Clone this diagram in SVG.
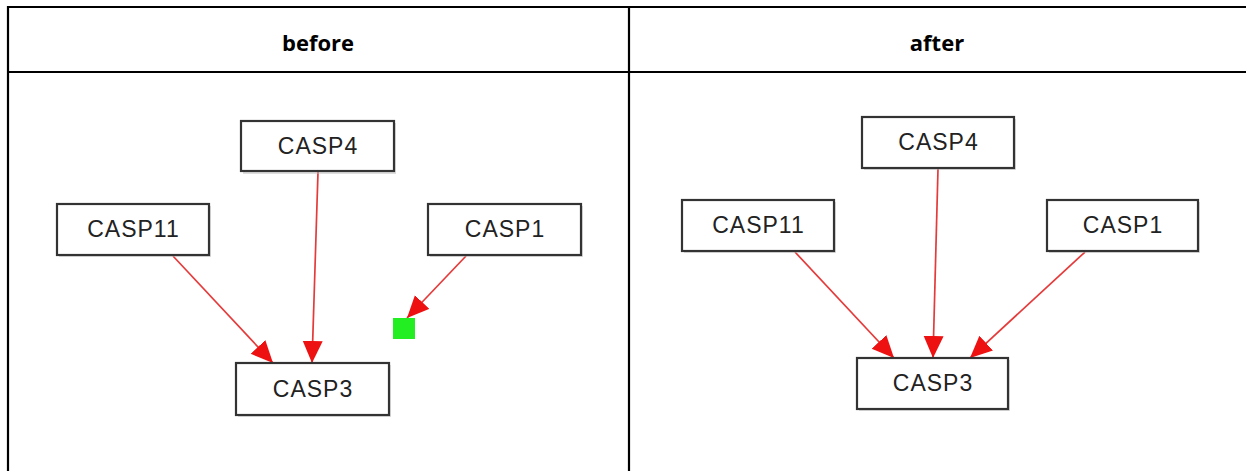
<svg xmlns="http://www.w3.org/2000/svg" width="1246" height="471" viewBox="0 0 1246 471">
<defs>
<style>
.grid{stroke:#000;stroke-width:2.2;fill:none}
.hdr{font-family:"Open Sans","Liberation Sans",sans-serif;font-weight:bold;font-size:22px;fill:#000;text-anchor:middle}
.box{fill:#fff;stroke:#333;stroke-width:2.2}
.shd{fill:#bbb;opacity:0.5}
.lbl{font-family:"Liberation Sans",Arial,sans-serif;font-size:23px;letter-spacing:1px;fill:#222;text-anchor:middle}
.edge{stroke:#e53a3a;stroke-width:1.7;fill:none;marker-end:url(#ah)}
</style>
<marker id="ah" markerUnits="userSpaceOnUse" markerWidth="24" markerHeight="22" refX="22" refY="10" orient="auto" viewBox="0 0 24 22">
<path d="M0,0 L22,10 L0,20 Z" fill="#ee1111"/>
</marker>
</defs>
<rect width="1246" height="471" fill="#fff"/>
<g id="table">
<line class="grid" x1="7" y1="7" x2="1246" y2="7"/>
<line class="grid" x1="7" y1="72" x2="1246" y2="72"/>
<line class="grid" x1="8" y1="6" x2="8" y2="471"/>
<line class="grid" x1="629" y1="6" x2="629" y2="471"/>
<text class="hdr" x="318" y="51">before</text>
<text class="hdr" x="937" y="51">after</text>
</g>
<g id="connectors">
<line class="edge" x1="173" y1="256" x2="273" y2="363"/>
<line class="edge" x1="318" y1="172" x2="312" y2="363"/>
<line class="edge" x1="466" y1="256" x2="407" y2="318"/>
<line class="edge" x1="795" y1="252" x2="894" y2="358"/>
<line class="edge" x1="938" y1="169" x2="933" y2="358"/>
<line class="edge" x1="1085" y1="252" x2="970" y2="358"/>
</g>
<g id="before-casp4"><rect class="shd" x="243" y="123" width="153" height="51"/><rect class="box" x="241" y="121" width="153" height="50"/><text class="lbl" x="318" y="154">CASP4</text></g>
<g id="before-casp11"><rect class="shd" x="59" y="206" width="152" height="51"/><rect class="box" x="57" y="204" width="152" height="51"/><text class="lbl" x="133.5" y="237">CASP11</text></g>
<g id="before-casp1"><rect class="shd" x="430" y="206" width="153" height="51"/><rect class="box" x="428" y="204" width="153" height="51"/><text class="lbl" x="505" y="237">CASP1</text></g>
<g id="before-casp3"><rect class="shd" x="238" y="365" width="153" height="52"/><rect class="box" x="236" y="363" width="153" height="52"/><text class="lbl" x="313" y="397">CASP3</text></g>
<g id="before-green"><rect x="393" y="318" width="22" height="21" fill="#22ee22"/></g>
<g id="after-casp4"><rect class="shd" x="864" y="119" width="152" height="51"/><rect class="box" x="862" y="117" width="152" height="51"/><text class="lbl" x="938.5" y="150">CASP4</text></g>
<g id="after-casp11"><rect class="shd" x="684" y="202" width="152" height="51"/><rect class="box" x="682" y="200" width="152" height="51"/><text class="lbl" x="758.5" y="233">CASP11</text></g>
<g id="after-casp1"><rect class="shd" x="1049" y="202" width="151" height="51"/><rect class="box" x="1047" y="200" width="151" height="51"/><text class="lbl" x="1123" y="233">CASP1</text></g>
<g id="after-casp3"><rect class="shd" x="859" y="360" width="151" height="51"/><rect class="box" x="857" y="358" width="151" height="51"/><text class="lbl" x="933" y="391">CASP3</text></g>
</svg>
